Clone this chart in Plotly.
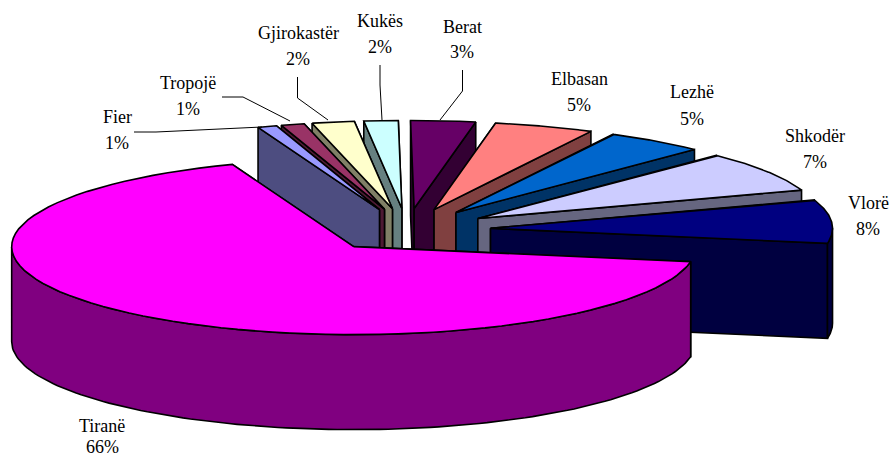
import numpy as np
import plotly.graph_objects as go

# Data (clockwise from 12 o'clock)
names = ["Berat", "Elbasan", "Lezhë", "Shkodër", "Vlorë", "Tiranë", "Fier", "Tropojë", "Gjirokastër", "Kukës"]
values = [3.05, 4.7, 4.7, 7.49, 7.96, 66.49, 0.9, 1.1, 2.0, 1.61]
percent_labels = ["3%", "5%", "5%", "7%", "8%", "66%", "1%", "1%", "2%", "2%"]

top_colors = ["#660066", "#FF8080", "#0066CC", "#CCCCFF", "#000080", "#FF00FF", "#9999FF", "#993366", "#FFFFCC", "#CCFFFF"]
side_colors = ["#330033", "#804040", "#003366", "#666680", "#000040", "#800080", "#4D4D80", "#4D1A33", "#808066", "#668080"]

# Label centres (pixel space): name line, percent line
label_x = [462, 579, 692, 815, 868, 102, 117, 188, 298, 380]
name_y = [27, 79, 92, 136, 203, 426, 117, 83, 33, 21]
pct_y = [52, 105, 119, 162, 229, 447, 143, 109, 59, 47]

# Leader lines
leaders = [
    ([134, 156, 262], [132, 132, 127]),
    ([222, 243, 290], [97, 97, 121]),
    ([297.5, 297.5, 328], [77, 98, 120]),
    ([380, 380, 382], [65, 85, 120]),
    ([462.5, 462.5, 440], [70, 91, 120]),
]

# Pie projection
CX, CY = 407.0, 230.0
RX, RY = 342.0, 88.0
EXPLODE = 0.245
DEPTH = 95.0
START_ANGLE = -0.6
LW = 1.6
FONT = dict(family="Liberation Serif", size=18, color="#000000")

fig = go.Figure()


def poly(xs, ys, color):
    fig.add_trace(go.Scatter(
        x=list(xs), y=list(ys), mode="lines", fill="toself", fillcolor=color,
        line=dict(color="#000000", width=LW), hoverinfo="skip", showlegend=False))


fractions = np.array(values, dtype=float) / sum(values)
ends = np.cumsum(fractions) * 360.0 + START_ANGLE
starts = ends - fractions * 360.0
mids = (starts + ends) / 2.0

for i in sorted(range(len(values)), key=lambda k: -np.cos(np.radians(mids[k]))):
    a0, a1 = starts[i], ends[i]
    m = np.radians(mids[i])
    tx = CX + EXPLODE * RX * np.sin(m)
    ty = CY - EXPLODE * RY * np.cos(m)
    th = np.radians(np.linspace(a0, a1, 80))
    rx = tx + RX * np.sin(th)
    ry = ty - RY * np.cos(th)
    # radial walls: the one facing the viewer goes last
    order = [-1, 0] if mids[i] > 180 else [0, -1]
    for e in order:
        poly([tx, rx[e], rx[e], tx, tx], [ty, ry[e], ry[e] + DEPTH, ty + DEPTH, ty], side_colors[i])
    # outer rim (front-facing part)
    f0, f1 = max(a0, 90.0), min(a1, 270.0)
    if f1 > f0:
        fa = np.radians(np.linspace(f0, f1, 120))
        fx = tx + RX * np.sin(fa)
        fy = ty - RY * np.cos(fa)
        poly(np.r_[fx, fx[::-1], fx[0]], np.r_[fy, fy[::-1] + DEPTH, fy[0]], side_colors[i])
    # top face
    poly(np.r_[tx, rx, tx], np.r_[ty, ry, ty], top_colors[i])

for lx, ly in leaders:
    fig.add_trace(go.Scatter(x=lx, y=ly, mode="lines", line=dict(color="#000000", width=1),
                             hoverinfo="skip", showlegend=False))

for i, n in enumerate(names):
    fig.add_annotation(x=label_x[i], y=name_y[i], text=n, showarrow=False, font=FONT)
    fig.add_annotation(x=label_x[i], y=pct_y[i], text=percent_labels[i], showarrow=False, font=FONT)

fig.update_layout(
    width=891, height=457, margin=dict(l=0, r=0, t=0, b=0),
    paper_bgcolor="#FFFFFF", plot_bgcolor="#FFFFFF", showlegend=False,
    xaxis=dict(range=[0, 891], visible=False, fixedrange=True),
    yaxis=dict(range=[457, 0], visible=False, fixedrange=True),
)
fig.write_html("out.html", config=dict(displayModeBar=False),
               post_script="document.body.style.margin='0';document.documentElement.style.overflow='hidden';")
